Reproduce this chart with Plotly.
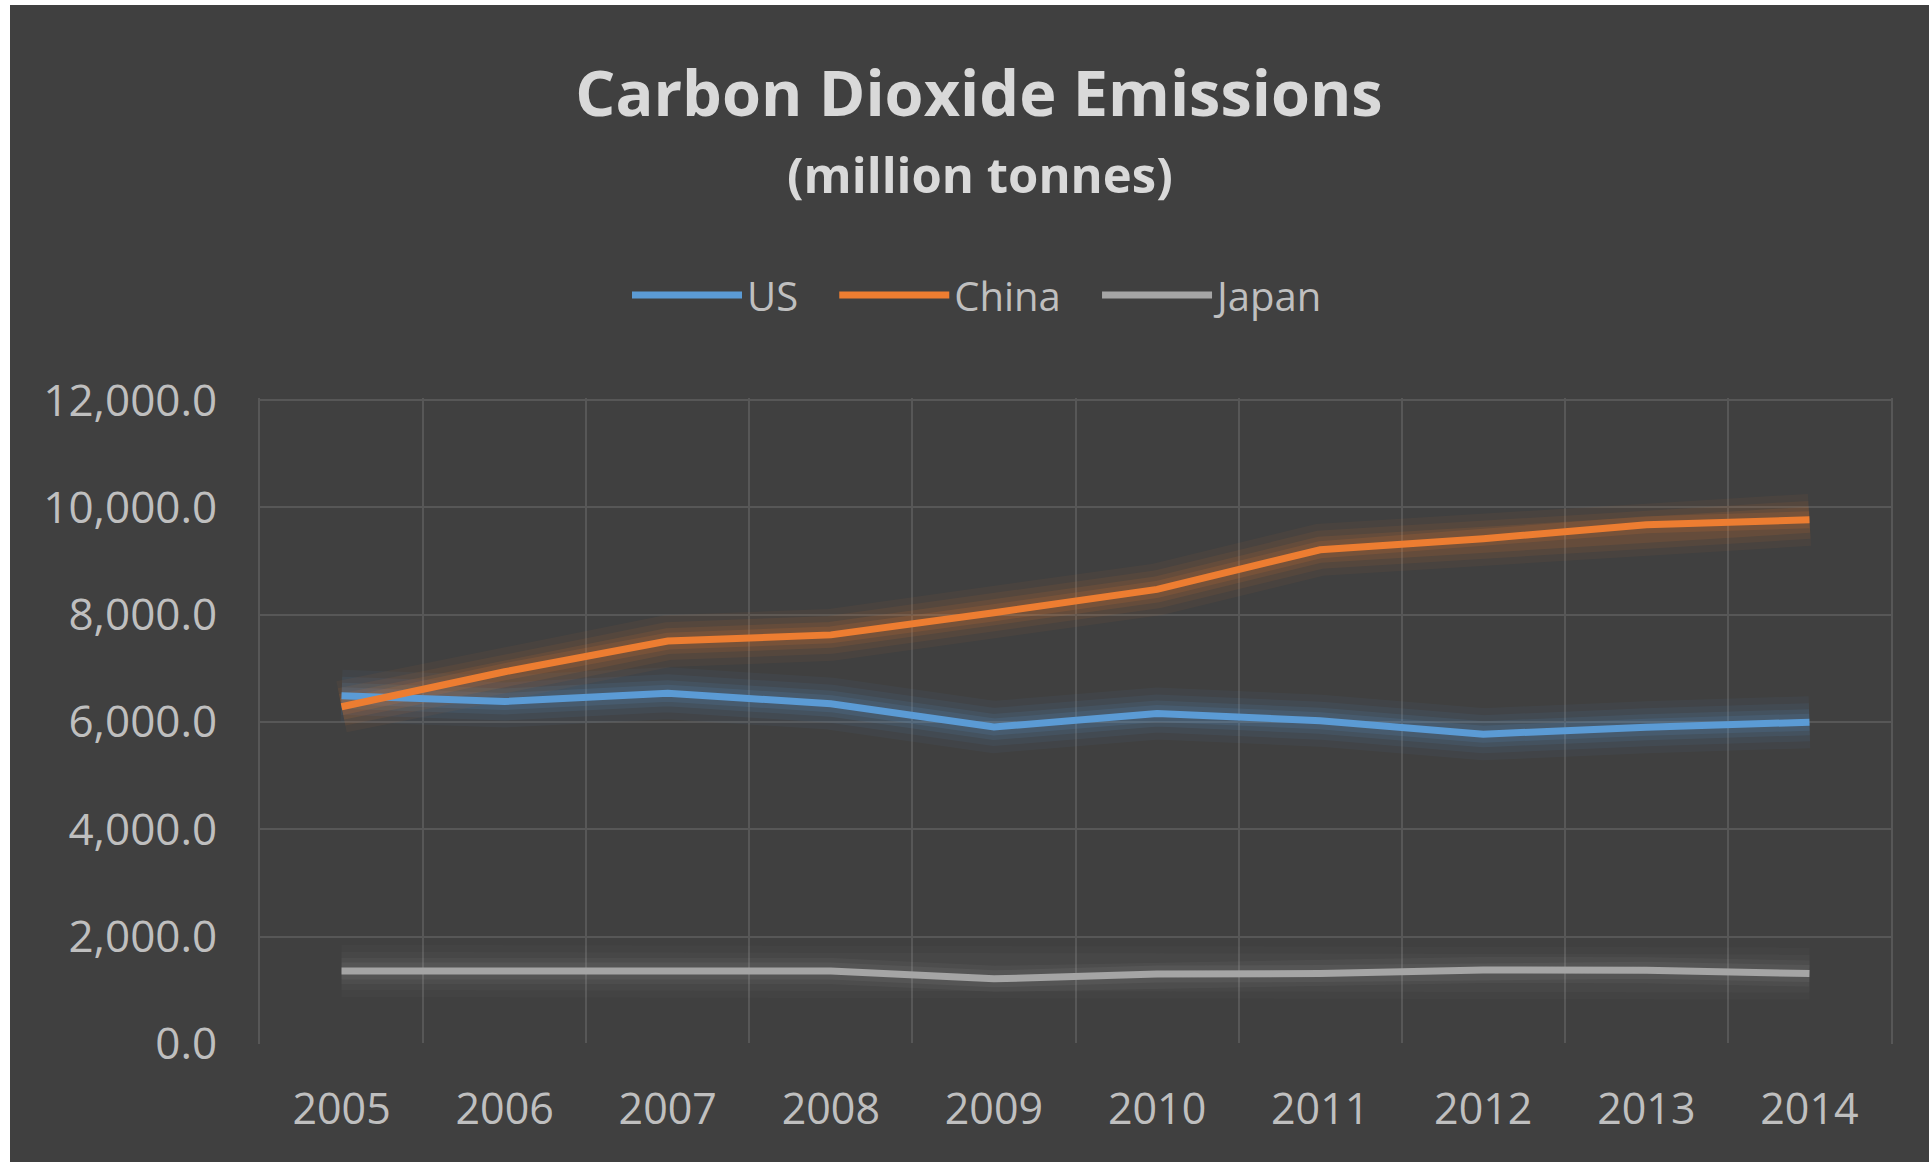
import plotly.graph_objects as go

years = ["2005", "2006", "2007", "2008", "2009", "2010", "2011", "2012", "2013", "2014"]
us = [6490, 6385, 6535, 6343, 5908, 6160, 6026, 5774, 5905, 5998]
china = [6285, 6938, 7509, 7625, 8038, 8473, 9212, 9417, 9678, 9769]
japan = [1362, 1362, 1362, 1360, 1214, 1305, 1313, 1379, 1375, 1313]
names = ["US", "China", "Japan"]
colors = ["#5B9BD5", "#ED7D31", "#A5A5A5"]
pad = "\u00a0\u00a0\u00a0"
legend_names = [names[0] + pad, names[1] + pad, names[2]]

series = list(zip(names, [us, china, japan], colors, legend_names))
glow_alpha = {"US": 1.0, "China": 1.0, "Japan": 0.7}

BG = "#404040"
GRID = "#575757"
W, H = 1919, 1157
ML, MR, MT, MB = 250, 38, 393, 118
PW = W - ML - MR
PH = H - MT - MB

fig = go.Figure()

# soft glow beneath each line
for name, vals, col, _ in series:
    for width, op in [(52, 0.05), (38, 0.07), (26, 0.1), (17, 0.13)]:
        fig.add_trace(go.Scatter(
            x=years, y=vals, mode="lines", showlegend=False, hoverinfo="skip",
            line=dict(color=col, width=width, shape="linear"),
            opacity=op * glow_alpha[name],
        ))

for name, vals, col, lname in series:
    fig.add_trace(go.Scatter(
        x=years, y=vals, mode="lines", name=lname,
        line=dict(color=col, width=7),
    ))

fig.update_layout(
    width=W, height=H,
    margin=dict(l=ML, r=MR, t=MT, b=MB),
    paper_bgcolor=BG, plot_bgcolor=BG,
    font=dict(family="Open Sans", color="#bfbfbf"),
    title=dict(
        text="<b>Carbon Dioxide Emissions</b>",
        font=dict(family="Open Sans", size=63, color="#d9d9d9"),
        x=(969 - ML) / PW, xanchor="center", xref="paper",
        y=1 - 89 / H, yanchor="middle", yref="container",
    ),
    annotations=[dict(
        text="<b>(million tonnes)</b>", showarrow=False,
        xref="paper", yref="paper",
        x=(970 - ML) / PW, y=1 + (MT - 169) / PH,
        xanchor="center", yanchor="middle",
        font=dict(family="Open Sans", size=49, color="#d9d9d9"),
    )],
    legend=dict(
        orientation="h", x=(969 - ML) / PW, xanchor="center",
        y=1 + (MT - 290) / PH, yanchor="middle",
        font=dict(family="Open Sans", size=40, color="#bfbfbf"),
        bgcolor="rgba(0,0,0,0)", itemwidth=110,
        traceorder="normal",
    ),
    xaxis=dict(
        type="category", tickson="boundaries", showgrid=True, range=[-0.5, 9.5],
        gridcolor=GRID, gridwidth=2, ticks="", showline=False,
        tickfont=dict(family="Open Sans", size=43, color="#bfbfbf"),
        ticklabelstandoff=36, zeroline=False,
    ),
    yaxis=dict(
        range=[0, 12040], tickvals=[0, 2000, 4000, 6000, 8000, 10000, 12000],
        tickformat=",.1f", showgrid=True, gridcolor=GRID, gridwidth=2,
        zeroline=True, zerolinecolor=BG, zerolinewidth=2,
        ticks="", showline=True, mirror=True, linecolor=GRID, linewidth=2,
        tickfont=dict(family="Open Sans", size=44, color="#bfbfbf"),
        ticklabelstandoff=32,
    ),
)

fig.write_html(
    "out.html",
    post_script="document.body.style.margin='5px 0 0 10px';document.body.style.overflow='hidden';document.body.style.background='#ffffff';",
)
